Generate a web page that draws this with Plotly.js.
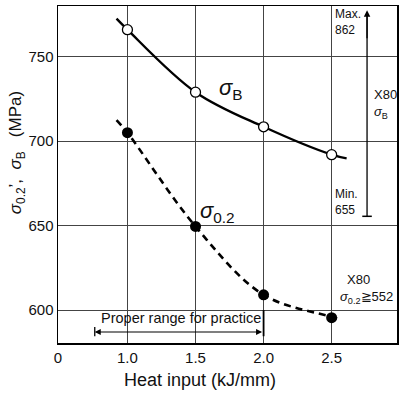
<!DOCTYPE html>
<html><head><meta charset="utf-8">
<script src="https://cdn.plot.ly/plotly-3.0.1.min.js"></script>
<style>html,body{margin:0;padding:0;background:#fff}#c{width:403px;height:393px}</style>
</head><body><div id="c"></div>
<script>
// Measured points
var heatInput = [1.0, 1.5, 2.0, 2.5];
var sigmaB = [766, 729, 708.5, 692];
var sigma02 = [705, 649.5, 609, 595.5];
// Fitted curves
var curveBx = [0.92, 1.0, 1.5, 2.0, 2.5, 2.61];
var curveBy = [772.5, 766, 729, 708.5, 692, 689.8];
var curve02x = [0.92, 1.0, 1.5, 2.0, 2.5, 2.56];
var curve02y = [712.5, 705, 649.5, 609, 596, 594.5];
// Axis ticks
var xTickVals = [0.49, 1.0, 1.5, 2.0, 2.5];
var xTickText = ['0', '1.0', '1.5', '2.0', '2.5'];
var yTickVals = [600, 650, 700, 750];
var yTickText = ['600', '650', '700', '750'];

var F = 'Liberation Sans, Arial, sans-serif';
var traces = [
  {x: curveBx, y: curveBy, mode: 'lines', line: {color: '#000', width: 2.4, shape: 'spline'}, hoverinfo: 'skip'},
  {x: curve02x, y: curve02y, mode: 'lines', line: {color: '#000', width: 2.6, shape: 'spline', dash: '7px,5px'}, hoverinfo: 'skip'},
  {x: heatInput, y: sigmaB, mode: 'markers', marker: {size: 10, color: '#fff', line: {color: '#000', width: 1.3}}},
  {x: heatInput, y: sigma02, mode: 'markers', marker: {size: 11, color: '#000'}}
];
var layout = {
  width: 403, height: 393, showlegend: false,
  margin: {l: 58, r: 6, t: 6, b: 50},
  paper_bgcolor: '#fff', plot_bgcolor: '#fff',
  font: {family: F, color: '#111', size: 14},
  xaxis: {range: [0.49, 2.98], tickvals: xTickVals, ticktext: xTickText, showgrid: true,
    gridcolor: '#444', gridwidth: 1, zeroline: false, showline: true, mirror: true,
    linecolor: '#000', linewidth: 1.5, ticks: '', tickfont: {size: 15, family: F}},
  yaxis: {range: [580.5, 780], tickvals: yTickVals, ticktext: yTickText, showgrid: true,
    gridcolor: '#444', gridwidth: 1, zeroline: false, showline: true, mirror: true,
    linecolor: '#000', linewidth: 1.5, ticks: '', tickfont: {size: 15, family: F}},
  shapes: [
    {type: 'line', xref: 'x', yref: 'y', x0: 2.725, x1: 2.795, y0: 655.5, y1: 655.5, line: {color: '#000', width: 1.5}},
    {type: 'line', xref: 'x', yref: 'y', x0: 2.76, x1: 2.76, y0: 655.5, y1: 775, line: {color: '#000', width: 1.3}},
    {type: 'line', xref: 'x', yref: 'y', x0: 0.76, x1: 0.76, y0: 584.5, y1: 590, line: {color: '#000', width: 1.3}},
    {type: 'line', xref: 'x', yref: 'y', x0: 2.0, x1: 2.0, y0: 584.5, y1: 600, line: {color: '#000', width: 1.8}}
  ],
  annotations: [
    {x: 2.76, y: 777.5, ax: 2.76, ay: 760, axref: 'x', ayref: 'y', xref: 'x', yref: 'y', text: '', showarrow: true, arrowhead: 2, arrowsize: 1, arrowwidth: 1.3, arrowcolor: '#000'},
    {x: 0.76, y: 587, ax: 2.0, ay: 587, axref: 'x', ayref: 'y', xref: 'x', yref: 'y', text: '', showarrow: true, arrowhead: 2, startarrowhead: 2, arrowside: 'end+start', arrowsize: 1, arrowwidth: 1.2, arrowcolor: '#000'},
    {x: 0.79, y: 595.3, xref: 'x', yref: 'y', text: 'Proper range for practice', showarrow: false, xanchor: 'left', font: {size: 14.5, family: F}},
    {x: 1.66, y: 731, xref: 'x', yref: 'y', text: '<i>σ</i><sub>B</sub>', showarrow: false, font: {size: 22, family: F}, xanchor: 'left'},
    {x: 1.52, y: 658, xref: 'x', yref: 'y', text: '<i>σ</i><sub>0.2</sub>', showarrow: false, font: {size: 22, family: F}, xanchor: 'left'},
    {x: 2.51, y: 770.5, xref: 'x', yref: 'y', text: 'Max.<br>862', showarrow: false, align: 'left', xanchor: 'left', font: {size: 12, family: F}},
    {x: 2.51, y: 664, xref: 'x', yref: 'y', text: 'Min.<br>655', showarrow: false, align: 'left', xanchor: 'left', font: {size: 12, family: F}},
    {x: 2.8, y: 722, xref: 'x', yref: 'y', text: 'X80<br><i>σ</i><sub>B</sub>', showarrow: false, align: 'left', xanchor: 'left', font: {size: 13, family: F}},
    {x: 2.6, y: 617.8, xref: 'x', yref: 'y', text: 'X80', showarrow: false, xanchor: 'left', font: {size: 13, family: F}},
    {x: 2.55, y: 607.7, xref: 'x', yref: 'y', text: '<i>σ</i><sub>0.2</sub>≧552', showarrow: false, xanchor: 'left', font: {size: 13, family: F}},
    {x: -0.12, y: 0.564, xref: 'paper', yref: 'paper', text: '<i>σ</i><sub>0.2</sub>\u2019,  <i>σ</i><sub>B</sub>   (MPa)', showarrow: false, textangle: -90, font: {size: 17, family: F}, xanchor: 'center', yanchor: 'middle'},
    {x: 0.42, y: -0.11, xref: 'paper', yref: 'paper', text: 'Heat input (kJ/mm)', showarrow: false, yanchor: 'middle', font: {size: 18, family: F}}
  ]
};
Plotly.newPlot('c', traces, layout, {staticPlot: true});
</script></body></html>
